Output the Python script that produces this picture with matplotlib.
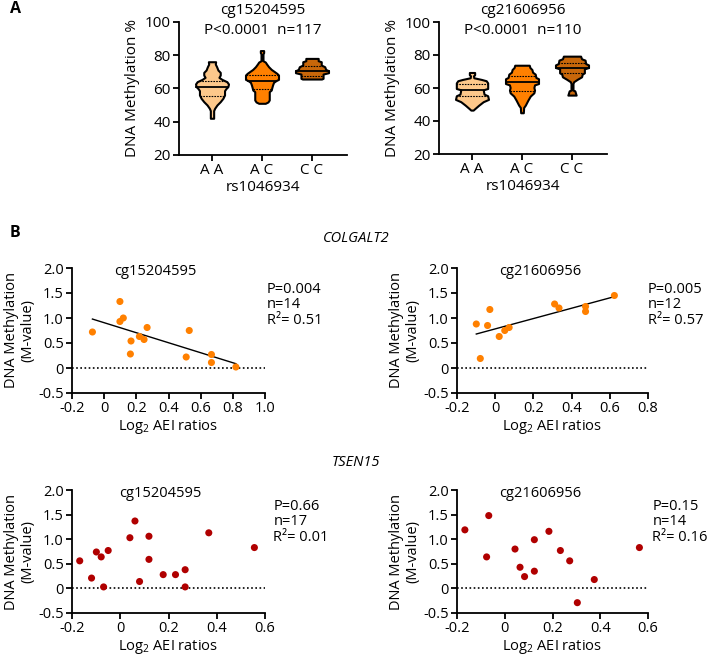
import numpy as np
import matplotlib
matplotlib.use("Agg")
import matplotlib.pyplot as plt
from matplotlib.ticker import FuncFormatter

plt.rcParams['font.family'] = ['Open Sans', 'DejaVu Sans']
plt.rcParams['mathtext.fontset'] = 'custom'
plt.rcParams['mathtext.rm'] = 'Open Sans'
plt.rcParams['axes.unicode_minus'] = False

# ---- panel A: violin outlines (level, relative width) ----
genotypes = ["A A", "A C", "C C"]
violin_colors = ["#FDC88B", "#FF8000", "#C8670A"]

# cg15204595
a1_aa_lvl = [76.1, 74.7, 73.1, 71.1, 69.7, 68.1, 66.7, 65.5, 64.1, 62.7, 61.1, 59.9, 58.7, 56.1, 54.1, 52.1, 50.1, 48.1, 46.7, 42.1]
a1_aa_den = [0.22, 0.2, 0.28, 0.36, 0.5, 0.5, 0.42, 0.6, 0.9, 1.0, 0.96, 0.84, 0.76, 0.76, 0.66, 0.5, 0.3, 0.16, 0.1, 0.1]
a1_ac_lvl = [82.8, 81.6, 80.8, 76.7, 75.9, 74.7, 73.1, 71.5, 70.1, 69.1, 68.1, 65.5, 64.7, 63.7, 62.1, 60.7, 59.1, 58.1, 56.1, 53.1, 51.9, 51.1]
a1_ac_den = [0.1, 0.1, 0.06, 0.06, 0.2, 0.28, 0.4, 0.56, 0.76, 0.9, 1.0, 1.0, 0.84, 0.7, 0.64, 0.6, 0.56, 0.44, 0.44, 0.44, 0.36, 0.2]
a1_cc_lvl = [78.1, 76.7, 76.1, 74.1, 73.1, 71.5, 70.7, 69.5, 68.7, 66.1, 65.7]
a1_cc_den = [0.375, 0.375, 0.56, 0.56, 0.77, 0.83, 1.0, 1.0, 0.67, 0.67, 0.58]
a1_quart = [(64.5, 61.0, 55.3), (68.3, 64.7, 59.5), (73.8, 70.4, 67.3)]

# cg21606956
a2_aa_lvl = [69.4, 68.0, 67.4, 66.2, 65.2, 64.4, 63.1, 59.7, 58.9, 56.3, 55.3, 53.1, 51.7, 49.6, 47.6, 46.6]
a2_aa_den = [0.16, 0.16, 0.09, 0.11, 0.57, 0.86, 0.95, 0.95, 0.68, 0.73, 0.95, 1.0, 0.68, 0.41, 0.18, 0.07]
a2_ac_lvl = [73.8, 72.4, 71.2, 69.6, 68.4, 66.4, 65.6, 62.7, 61.9, 60.3, 58.7, 57.1, 55.1, 52.7, 49.6, 48.2, 45.0]
a2_ac_den = [0.44, 0.48, 0.6, 0.64, 0.8, 0.84, 1.0, 1.0, 0.76, 0.72, 0.76, 0.72, 0.5, 0.36, 0.2, 0.1, 0.08]
a2_cc_lvl = [79.3, 77.7, 76.9, 74.8, 74.0, 72.4, 71.6, 69.2, 68.4, 66.8, 65.2, 63.8, 62.7, 58.7, 58.3, 55.7]
a2_cc_den = [0.52, 0.58, 0.79, 0.83, 1.0, 1.0, 0.75, 0.75, 0.62, 0.58, 0.31, 0.1, 0.06, 0.06, 0.17, 0.25]
a2_quart = [(62.7, 58.6, 55.1), (67.2, 63.4, 58.3), (75.2, 72.4, 68.8)]

# ---- panel B: scatter points ----
col_cg152_x = [-0.073, 0.098, 0.098, 0.119, 0.267, 0.163, 0.167, 0.219, 0.248, 0.529, 0.51, 0.667, 0.667, 0.819]
col_cg152_y = [0.72, 1.33, 0.93, 1.0, 0.81, 0.28, 0.54, 0.63, 0.57, 0.75, 0.22, 0.27, 0.11, 0.02]
col_cg216_x = [-0.099, -0.078, -0.028, -0.040, 0.021, 0.050, 0.073, 0.311, 0.334, 0.473, 0.473, 0.624]
col_cg216_y = [0.88, 0.19, 1.17, 0.85, 0.63, 0.75, 0.81, 1.28, 1.20, 1.23, 1.13, 1.45]
tsen_cg152_x = [-0.168, -0.119, -0.099, -0.079, -0.069, -0.050, 0.040, 0.061, 0.080, 0.119, 0.119, 0.178, 0.229, 0.269, 0.269, 0.367, 0.556]
tsen_cg152_y = [0.56, 0.21, 0.74, 0.64, 0.03, 0.77, 1.03, 1.37, 0.14, 1.06, 0.59, 0.28, 0.28, 0.38, 0.03, 1.13, 0.83]
tsen_cg216_x = [-0.167, -0.067, -0.076, 0.043, 0.064, 0.083, 0.124, 0.124, 0.185, 0.233, 0.272, 0.304, 0.375, 0.564]
tsen_cg216_y = [1.19, 1.48, 0.64, 0.80, 0.43, 0.24, 0.99, 0.35, 1.16, 0.77, 0.56, -0.29, 0.18, 0.83]

W, H = 709, 657
fig = plt.figure(figsize=(W / 100, H / 100), dpi=100)


def px_axes(l, t, r, b):
    return fig.add_axes([l / W, 1 - b / H, (r - l) / W, (b - t) / H])


def style(ax):
    for s in ['top', 'right']:
        ax.spines[s].set_visible(False)
    for s in ['left', 'bottom']:
        ax.spines[s].set_linewidth(1.3)
    ax.tick_params(width=1.3, length=4, labelsize=10.5, pad=2)


def draw_violin(ax, pos, lvl, den, quart, color, maxw=0.33):
    lvl = np.array(lvl)
    w = np.array(den) * maxw
    ax.fill_betweenx(lvl, pos - w, pos + w, facecolor=color, edgecolor='black', lw=1.5, zorder=2)
    for k, q in enumerate(quart):
        hw = np.interp(q, lvl[::-1], w[::-1])
        if k == 1:
            ax.plot([pos - hw, pos + hw], [q, q], color='black', lw=1.3, zorder=3)
        else:
            ax.plot([pos - hw, pos + hw], [q, q], color='black', lw=0.8, ls=(0, (1.5, 1)), zorder=3)


def violin_panel(ax, shapes, quarts, title, stats):
    style(ax)
    for i, (lvl, den) in enumerate(shapes):
        draw_violin(ax, i, lvl, den, quarts[i], violin_colors[i])
    ax.set_xlim(-0.66, 2.7)
    ax.set_ylim(20, 100)
    ax.set_yticks([20, 40, 60, 80, 100])
    ax.set_xticks([0, 1, 2])
    ax.set_xticklabels(genotypes)
    ax.tick_params(labelsize=11)
    ax.set_ylabel("DNA Methylation %", fontsize=11, labelpad=3)
    ax.set_xlabel("rs1046934", fontsize=11, labelpad=1)
    ax.text(0.5, 1.09, title, transform=ax.transAxes, ha='center', va='center', fontsize=11)
    ax.text(0.5, 0.935, stats, transform=ax.transAxes, ha='center', va='center', fontsize=11)


ax1 = px_axes(179, 22, 347, 155)
violin_panel(ax1, [(a1_aa_lvl, a1_aa_den), (a1_ac_lvl, a1_ac_den), (a1_cc_lvl, a1_cc_den)],
             a1_quart, "cg15204595", "P<0.0001  n=117")
ax2 = px_axes(439, 22, 607, 154)
violin_panel(ax2, [(a2_aa_lvl, a2_aa_den), (a2_ac_lvl, a2_ac_den), (a2_cc_lvl, a2_cc_den)],
             a2_quart, "cg21606956", "P<0.0001  n=110")

fmt = FuncFormatter(lambda v, _: '0' if abs(v) < 1e-9 else f'{v:.1f}')


def scatter_panel(ax, x, y, color, xmax, title, tx, stats, sx, sy, fit=False):
    style(ax)
    ax.axhline(0, color='black', lw=1.2, ls=(0, (1, 1.5)), zorder=1)
    ax.scatter(x, y, s=26, color=color, edgecolors='none', zorder=3)
    if fit:
        k, b = np.polyfit(x, y, 1)
        xx = np.array([min(x), max(x)])
        ax.plot(xx, k * xx + b, color='black', lw=1.0, zorder=2)
    ax.set_xlim(-0.2, xmax)
    ax.set_ylim(-0.5, 2.0)
    ax.set_xticks(np.arange(-0.2, xmax + 0.01, 0.2))
    ax.set_yticks([-0.5, 0, 0.5, 1.0, 1.5, 2.0])
    ax.xaxis.set_major_formatter(fmt)
    ax.yaxis.set_major_formatter(fmt)
    ax.set_ylabel("DNA Methylation\n(M-value)", fontsize=10.5, linespacing=1.1, labelpad=2)
    ax.set_xlabel("Log$_2$ AEI ratios", fontsize=10.5, labelpad=1)
    ax.text(tx, 0.97, title, transform=ax.transAxes, ha='center', va='center', fontsize=10.5)
    ax.text(sx, sy, stats, transform=ax.transAxes, ha='left', va='top', fontsize=10.5, linespacing=1.05)


ax3 = px_axes(72, 268, 265, 393)
scatter_panel(ax3, col_cg152_x, col_cg152_y, '#FF8000', 1.0, "cg15204595", 0.43,
              "P=0.004\nn=14\nR\u00b2= 0.51", 1.01, 0.89, fit=True)
ax4 = px_axes(457, 268, 648, 393)
scatter_panel(ax4, col_cg216_x, col_cg216_y, '#FF8000', 0.8, "cg21606956", 0.435,
              "P=0.005\nn=12\nR\u00b2= 0.57", 1.0, 0.89, fit=True)
ax5 = px_axes(72, 490, 265, 613)
scatter_panel(ax5, tsen_cg152_x, tsen_cg152_y, '#B00000', 0.6, "cg15204595", 0.457,
              "P=0.66\nn=17\nR\u00b2= 0.01", 1.043, 0.93)
ax6 = px_axes(457, 490, 648, 613)
scatter_panel(ax6, tsen_cg216_x, tsen_cg216_y, '#B00000', 0.6, "cg21606956", 0.435,
              "P=0.15\nn=14\nR\u00b2= 0.16", 1.023, 0.93)

fig.text(10 / W, 1 - 9 / H, "A", fontsize=11.5, fontweight='bold', ha='left', va='center')
fig.text(10 / W, 1 - 233 / H, "B", fontsize=11.5, fontweight='bold', ha='left', va='center')
fig.text(356 / W, 1 - 238 / H, "COLGALT2", fontsize=10.5, style='italic', ha='center', va='center')
fig.text(356 / W, 1 - 463 / H, "TSEN15", fontsize=10.5, style='italic', ha='center', va='center')

fig.savefig("out.png", dpi=100)
